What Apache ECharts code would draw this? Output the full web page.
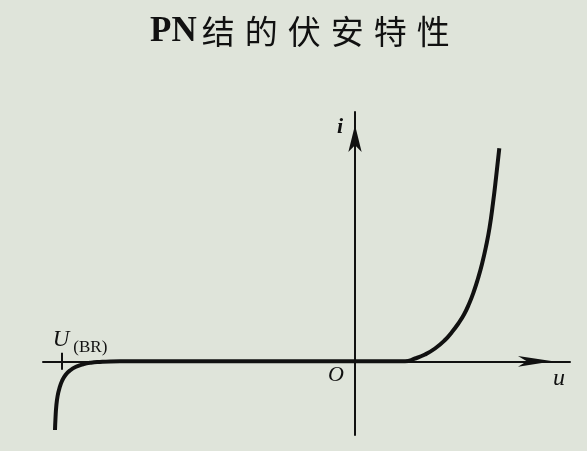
<!DOCTYPE html>
<html>
<head>
<meta charset="utf-8">
<script src="https://cdn.jsdelivr.net/npm/echarts@6/dist/echarts.min.js"></script>
<style>html,body{margin:0;padding:0;background:#dfe4da;}#c{width:587px;height:451px;}</style>
</head>
<body>
<div id="c"></div>
<script>
// Characteristic curve of a PN junction (arbitrary units: u, i)
const reverseU = [-3.0, -2.995, -2.987, -2.974, -2.955, -2.93, -2.895, -2.85, -2.79, -2.72, -2.64, -2.55, -2.45, -2.35];
const reverseI = [-6.87, -5.67, -4.47, -3.47, -2.67, -1.97, -1.37, -0.92, -0.55, -0.30, -0.14, -0.06, -0.01, 0];
const forwardU = [0.5, 0.6, 0.7, 0.8, 0.9, 0.97, 1.03, 1.09, 1.14, 1.19, 1.23, 1.27, 1.31, 1.345, 1.38, 1.41, 1.443];
const forwardI = [0, 0.28, 0.68, 1.28, 2.13, 2.93, 3.73, 4.68, 5.73, 7.03, 8.28, 9.73, 11.48, 13.33, 15.83, 18.33, 21.3];
const breakdownU = -2.93;
const tickHalf = 0.85;
const uRange = [-3.12, 2.15];
const iRange = [-7.37, 24.93];
const titleText = ['PN', '结', '的', '伏', '安', '特', '性'];
const axisNames = { u: 'u', i: 'i', origin: 'O', breakdown: 'U', breakdownSub: '(BR)' };

const curve = [];
reverseU.forEach((u, k) => curve.push([u, reverseI[k]]));
forwardU.forEach((u, k) => curve.push([u, forwardI[k]]));

const chart = echarts.init(document.getElementById('c'), null, { renderer: 'canvas' });
const serif = '"Liberation Serif","DejaVu Serif","Noto Sans CJK SC",serif';
const ink = '#111';

chart.setOption({
  backgroundColor: '#dfe4da',
  animation: false,
  title: {
    text: '{p|' + titleText[0] + '}' + titleText.slice(1).map(c => '{c|' + c + '}').join(''),
    left: 145,
    top: 9,
    textStyle: {
      rich: {
        p: { fontFamily: serif, fontWeight: 'bold', fontSize: 35, color: ink },
        c: { fontFamily: '"Noto Sans CJK SC",serif', fontWeight: 'normal', fontSize: 33, color: ink, padding: [0, 5, 0, 5] }
      }
    }
  },
  grid: { left: 43, right: 17, top: 112, bottom: 16, containLabel: false },
  xAxis: {
    type: 'value', min: uRange[0], max: uRange[1],
    name: axisNames.u, nameLocation: 'end', nameGap: -17,
    nameTextStyle: { fontFamily: serif, fontStyle: 'italic', fontSize: 24, color: ink, verticalAlign: 'top', padding: [5, 0, 0, 0] },
    axisLine: { onZero: true, lineStyle: { color: ink, width: 2 }, symbol: ['none', 'arrow'], symbolSize: [8, 35], symbolOffset: [0, -17] },
    axisTick: { show: false }, axisLabel: { show: false }, splitLine: { show: false }
  },
  yAxis: {
    type: 'value', min: iRange[0], max: iRange[1],
    name: axisNames.i, nameLocation: 'end', nameGap: -4,
    nameTextStyle: { fontFamily: serif, fontStyle: 'italic', fontWeight: 'bold', fontSize: 22, color: ink, align: 'right', verticalAlign: 'top', padding: [0, 12, 0, 0] },
    axisLine: { onZero: true, lineStyle: { color: ink, width: 2 }, symbol: ['none', 'arrow'], symbolSize: [10, 27], symbolOffset: [0, -13] },
    axisTick: { show: false }, axisLabel: { show: false }, splitLine: { show: false }
  },
  series: [{
    type: 'line',
    data: curve,
    smooth: 0.5,
    showSymbol: false,
    symbol: 'none',
    lineStyle: { color: ink, width: 4 },
    markLine: {
      silent: true, symbol: 'none', label: { show: false },
      lineStyle: { color: ink, width: 2, type: 'solid' },
      data: [[{ coord: [breakdownU, tickHalf] }, { coord: [breakdownU, -tickHalf] }]]
    },
    markPoint: {
      silent: true,
      symbol: 'circle', symbolSize: 1,
      itemStyle: { color: 'rgba(0,0,0,0)' },
      data: [
        { coord: [0, 0], label: { show: true, formatter: axisNames.origin, position: 'inside', offset: [-19, 14], fontFamily: serif, fontStyle: 'italic', fontSize: 22, color: ink } },
        { coord: [breakdownU, 0], label: { show: true, formatter: '{u|' + axisNames.breakdown + '}{s|' + axisNames.breakdownSub + '}', position: 'inside', offset: [18, -21],
          rich: {
            u: { fontFamily: serif, fontStyle: 'italic', fontSize: 23, color: ink, verticalAlign: 'top', lineHeight: 24 },
            s: { fontFamily: serif, fontSize: 17, color: ink, padding: [14, 0, 0, 4], lineHeight: 14 }
          } } }
      ]
    }
  }]
});
</script>
</body>
</html>
